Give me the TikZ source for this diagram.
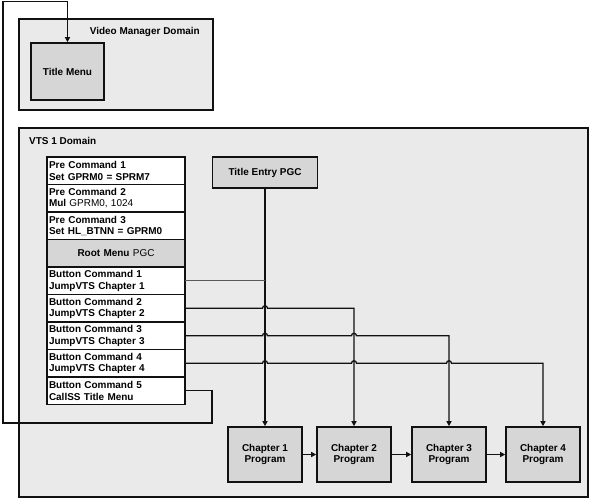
\documentclass[tikz,border=0pt]{standalone}
\usepackage{fontspec}
\setmainfont{Liberation Sans}
\usetikzlibrary{arrows.meta,positioning,calc}
\definecolor{ink}{HTML}{111111}
\definecolor{domainbg}{HTML}{EAEAEA}
\definecolor{boxbg}{HTML}{D6D6D6}
\newcommand{\diafont}{\fontsize{10}{11.5}\selectfont\bfseries}
\tikzset{
  domainbox/.style={draw=ink, line width=1.6pt, fill=domainbg, anchor=north west,
    inner sep=0pt, outer sep=0pt},
  block/.style={draw=ink, line width=1.6pt, fill=boxbg, align=center,
    inner sep=2pt, font=\diafont},
  cmd/.style={draw=ink, line width=1.6pt, fill=white, text width=134bp,
    minimum height=27.5bp, inner sep=2bp, outer sep=0pt, align=left, font=\diafont},
  rootrow/.style={cmd, fill=boxbg, align=center},
  title/.style={font=\diafont, inner sep=0pt},
  wire/.style={draw=ink, line width=1.3pt},
  link/.style={wire, -{Triangle[length=5bp,width=5bp]}},
}

\begin{document}
\begin{tikzpicture}[x=1bp,y=1bp]
\useasboundingbox (0,0) rectangle (600,-499);

% ----- domains -----
\node[domainbox, minimum width=194bp, minimum height=91bp] (vmg) at (19,-19) {};
\node[title, anchor=east] (vmglabel) at ($(vmg.north east)+(-13,-13)$) {Video Manager Domain};
\node[domainbox, minimum width=569bp, minimum height=369bp] (vts) at (19,-128) {};
\node[title, anchor=west] (vtslabel) at ($(vts.north west)+(10,-13)$) {VTS 1 Domain};

% ----- video manager -----
\node[block, minimum width=73bp, minimum height=57bp] (titlemenu) at (67.5,-71.5) {Title Menu};

% ----- root menu command stack -----
\node[cmd, anchor=north west] (pre1) at (47,-157) {Pre Command 1\\Set GPRM0 = SPRM7};
\node[cmd, below=0pt of pre1] (pre2) {Pre Command 2\\Mul {\mdseries GPRM0, 1024}};
\node[cmd, below=0pt of pre2] (pre3) {Pre Command 3\\Set HL\_BTNN = GPRM0};
\node[rootrow, below=0pt of pre3] (rootmenu) {Root Menu {\mdseries PGC}};
\node[cmd, below=0pt of rootmenu] (btn1) {Button Command 1\\JumpVTS Chapter 1};
\node[cmd, below=0pt of btn1] (btn2) {Button Command 2\\JumpVTS Chapter 2};
\node[cmd, below=0pt of btn2] (btn3) {Button Command 3\\JumpVTS Chapter 3};
\node[cmd, below=0pt of btn3] (btn4) {Button Command 4\\JumpVTS Chapter 4};
\node[cmd, below=0pt of btn4] (btn5) {Button Command 5\\CallSS Title Menu};

% ----- title entry and chapters -----
\node[block, minimum width=105bp, minimum height=31bp] (entry) at (265,-172.5) {Title Entry PGC};
\node[block, minimum width=74bp, minimum height=55bp] (ch1) at (265,-454.5) {Chapter 1\\Program};
\node[block, minimum width=74bp, minimum height=55bp] (ch2) at (354,-454.5) {Chapter 2\\Program};
\node[block, minimum width=74bp, minimum height=55bp] (ch3) at (449,-454.5) {Chapter 3\\Program};
\node[block, minimum width=74bp, minimum height=55bp] (ch4) at (543,-454.5) {Chapter 4\\Program};

% ----- chapter chain -----
\draw[link] (ch1) -- (ch2);
\draw[link] (ch2) -- (ch3);
\draw[link] (ch3) -- (ch4);

% ----- jumps into the chapters (hops over the vertical lines) -----
\draw[link] (entry) -- (ch1);
\draw[wire, line width=.8pt, draw=gray!70!black] (btn1.east) -- (btn1.east -| entry.south);
\draw[link] (btn2.east) -- ($(btn2.east -| ch1.north)+(-2.5,0)$) arc[start angle=180, end angle=0, radius=2.5]
  -| (ch2.north);
\draw[link] (btn3.east) -- ($(btn3.east -| ch1.north)+(-2.5,0)$) arc[start angle=180, end angle=0, radius=2.5]
  -- ($(btn3.east -| ch2.north)+(-2.5,0)$) arc[start angle=180, end angle=0, radius=2.5]
  -| (ch3.north);
\draw[link] (btn4.east) -- ($(btn4.east -| ch1.north)+(-2.5,0)$) arc[start angle=180, end angle=0, radius=2.5]
  -- ($(btn4.east -| ch2.north)+(-2.5,0)$) arc[start angle=180, end angle=0, radius=2.5]
  -- ($(btn4.east -| ch3.north)+(-2.5,0)$) arc[start angle=180, end angle=0, radius=2.5]
  -| (ch4.north);

% ----- button 5 back to the title menu, round the outside -----
\coordinate (turn) at ($(btn5.east)+(27,0)$);
\coordinate (low) at (3,-423);
\coordinate (high) at (3,-1.5);
\draw[link] (btn5.east) -- (turn) |- (low) -- (high) -| (titlemenu.north);

\end{tikzpicture}
\end{document}
